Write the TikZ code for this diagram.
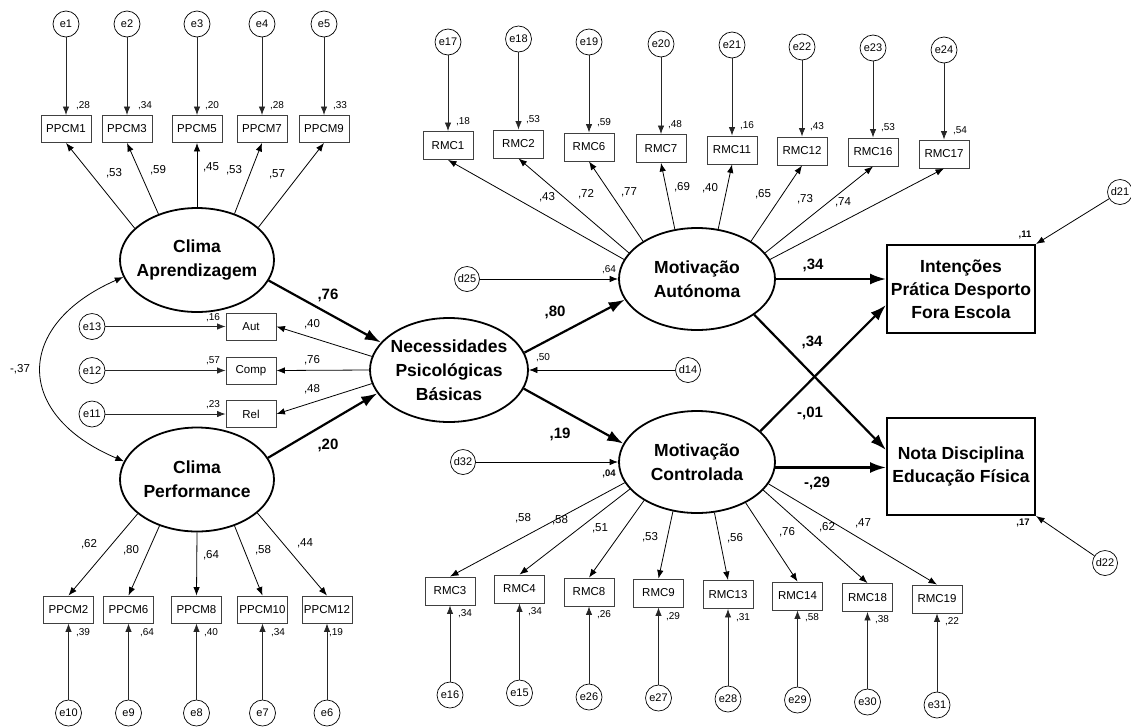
\documentclass[tikz,border=0pt]{standalone}
\usepackage{fontspec}
\setmainfont{Liberation Sans}
\usetikzlibrary{arrows.meta,shapes.geometric}
\newcommand{\latf}{\fontsize{17.5}{24}\selectfont\bfseries}
\newcommand{\bigf}{\fontsize{17.5}{23}\selectfont\bfseries}
\newcommand{\obsf}{\fontsize{11.5}{12}\selectfont}
\newcommand{\errf}{\fontsize{11}{12}\selectfont}
\newcommand{\lblf}{\fontsize{11.5}{12}\selectfont}
\newcommand{\rsqf}{\fontsize{10}{11}\selectfont}
\newcommand{\blf}{\fontsize{15}{16}\selectfont\bfseries}
\newcommand{\brsqf}{\fontsize{9.5}{10}\selectfont\bfseries}
\tikzset{
 lat/.style={ellipse, draw, line width=1.8pt, inner sep=0pt},
 lattext/.style={align=center, font=\latf, inner sep=0pt},
 obs/.style={rectangle, draw=black!75, line width=0.9pt, minimum width=50pt, minimum height=27pt, inner sep=0pt, font=\obsf},
 err/.style={circle, draw, line width=0.7pt, minimum size=26pt, inner sep=0pt, font=\errf},
 dist/.style={circle, draw, line width=0.7pt, minimum size=25pt, inner sep=0pt, font=\errf},
 big/.style={rectangle, draw, line width=2pt, minimum width=148pt, inner sep=0pt, align=center, font=\bigf},
 arr/.style={-{Latex[length=8.5pt,width=6.5pt]}, line width=0.8pt},
 earr/.style={arr, draw=black!85},
 barr/.style={-{Latex[length=16pt,width=11pt]}, line width=2.2pt},
 lbl/.style={font=\lblf, inner sep=0pt},
 rsq/.style={font=\rsqf, inner sep=0pt},
 bl/.style={font=\blf, inner sep=0pt},
 brsq/.style={font=\brsqf, inner sep=0pt},
}
\begin{document}
\begin{tikzpicture}[x=1pt,y=-1pt]
\useasboundingbox (0,0) rectangle (1131,726);
% ---------- latent variables ----------
\node[lat, minimum width=154pt, minimum height=104pt] (CA) at (197,260) {};
\node[lattext] (CAt) at (CA) {Clima\\Aprendizagem};
\node[lat, minimum width=154pt, minimum height=104pt] (CP) at (197,479.5) {};
\node[lattext] (CPt) at (CP) {Clima\\Performance};
\node[lat, minimum width=158pt, minimum height=104pt] (NB) at (449,370) {};
\node[lattext] (NBt) at (NB) {Necessidades\\Psicológicas\\Básicas};
\node[lat, minimum width=156pt, minimum height=102pt] (MA) at (697,279) {};
\node[lattext] (MAt) at (MA) {Motivação\\Autónoma};
\node[lat, minimum width=156pt, minimum height=102pt] (MC) at (697,462) {};
\node[lattext] (MCt) at (MC) {Motivação\\Controlada};
% ---------- outcome boxes ----------
\node[big, minimum height=88pt] (INT) at (961,289) {Intenções\\Prática Desporto\\Fora Escola};
\node[big, minimum height=97pt] (NOTA) at (961,466.5) {Nota Disciplina\\Educação Física};
% ---------- Clima Aprendizagem indicators ----------
\node[obs] (P1) at (66,129) {PPCM1};
\node[obs] (P3) at (127,129) {PPCM3};
\node[obs] (P5) at (197,129) {PPCM5};
\node[obs] (P7) at (262,129) {PPCM7};
\node[obs] (P9) at (324,129) {PPCM9};
\node[err] (e1) at (66,24) {e1};
\node[err] (e2) at (127,24) {e2};
\node[err] (e3) at (197,24) {e3};
\node[err] (e4) at (262,24) {e4};
\node[err] (e5) at (324,24) {e5};
\foreach \a/\b in {e1/P1,e2/P3,e3/P5,e4/P7,e5/P9} \draw[earr] (\a) -- (\b);
\draw[arr] (CA.153) -- (P1.south);
\draw[arr] (CA.130) -- (P3.south);
\draw[arr] (CA.90) -- (P5.south);
\draw[arr] (CA.51) -- (P7.south);
\draw[arr] (CA.28) -- (P9.south);
\node[rsq] (r1) at (83,106) {,28};
\node[rsq] (r3) at (145,106) {,34};
\node[rsq] (r5) at (212,106) {,20};
\node[rsq] (r7) at (277,106) {,28};
\node[rsq] (r9) at (340,106) {,33};
\node[lbl] (l1) at (114,173) {,53};
\node[lbl] (l3) at (158,170) {,59};
\node[lbl] (l5) at (211,167) {,45};
\node[lbl] (l7) at (234,170) {,53};
\node[lbl] (l9) at (277,174) {,57};
% ---------- Clima Performance indicators ----------
\node[obs] (P2) at (68.5,609.5) {PPCM2};
\node[obs] (P6) at (128.5,609.5) {PPCM6};
\node[obs] (P8) at (196.5,609.5) {PPCM8};
\node[obs] (P10) at (262.5,609.5) {PPCM10};
\node[obs] (P12) at (327,609.5) {PPCM12};
\node[err] (e10) at (68.5,713) {e10};
\node[err] (e9) at (128.5,713) {e9};
\node[err] (e8) at (196.5,713) {e8};
\node[err] (e7) at (262.5,713) {e7};
\node[err] (e6) at (327,713) {e6};
\foreach \a/\b in {e10/P2,e9/P6,e8/P8,e7/P10,e6/P12} \draw[earr] (\a) -- (\b);
\draw[arr] (CP.210) -- (P2.north);
\draw[arr] (CP.231) -- (P6.north);
\draw[arr] (CP.270) -- (P8.north);
\draw[arr] (CP.309) -- (P10.north);
\draw[arr] (CP.331) -- (P12.north);
\node[rsq] (r2) at (83,633) {,39};
\node[rsq] (r6) at (147,633) {,64};
\node[rsq] (r8) at (211,633) {,40};
\node[rsq] (r10) at (278,633) {,34};
\node[rsq] (r12) at (336,633) {,19};
\node[lbl] (l2) at (89,544) {,62};
\node[lbl] (l6) at (131,550) {,80};
\node[lbl] (l8) at (211,555) {,64};
\node[lbl] (l10) at (263,550) {,58};
\node[lbl] (l12) at (305,543) {,44};
% ---------- covariance ----------
\draw[{Latex[length=8.5pt,width=6.5pt]}-{Latex[length=8.5pt,width=6.5pt]}, line width=0.8pt] (CA.193) .. controls (14,325) and (14,415) .. (CP.166);
\node[lbl] (cov) at (20,369) {-,37};
% ---------- Necessidades indicators ----------
\node[obs] (AUT) at (251,326.5) {Aut};
\node[obs] (COMP) at (251,370.5) {Comp};
\node[obs] (REL) at (251,414) {Rel};
\node[err] (e13) at (92,326.5) {e13};
\node[err] (e12) at (92,370.5) {e12};
\node[err] (e11) at (92,414) {e11};
\draw[earr] (e13) -- (AUT);
\draw[earr] (e12) -- (COMP);
\draw[earr] (e11) -- (REL);
\draw[arr] (NB.170) -- (AUT.east);
\draw[arr] (NB.180) -- (COMP.east);
\draw[arr] (NB.190) -- (REL.east);
\node[rsq] (rA) at (213,318) {,16};
\node[rsq] (rC) at (213,361) {,57};
\node[rsq] (rR) at (213,405) {,23};
\node[lbl] (lA) at (312,324) {,40};
\node[lbl] (lC) at (312,360) {,76};
\node[lbl] (lR) at (312,389) {,48};
% ---------- structural paths ----------
\draw[barr] (CA.-16) -- (NB.158.6);
\draw[barr] (CP.17) -- (NB.198);
\draw[barr] (NB.13) -- (MA.196);
\draw[barr] (NB.-14) -- (MC.166);
\draw[barr] (MA.east) -- (MA.east -| INT.west);
\draw[barr] (MA.-32) -- ([yshift=16.5pt]NOTA.west);
\draw[barr] (MC.26) -- ([yshift=-16pt]INT.west);
\draw[barr] (MC.-4) -- (MC.-4 -| NOTA.west);
\node[bl] (b1) at (328,295) {,76};
\node[bl] (b2) at (328,445) {,20};
\node[bl] (b3) at (555,312) {,80};
\node[bl] (b4) at (560,434) {,19};
\node[bl] (b5) at (813,265) {,34};
\node[bl] (b6) at (812,342) {,34};
\node[bl] (b7) at (810,413) {-,01};
\node[bl] (b8) at (817,483) {-,29};
% ---------- disturbances ----------
\node[dist] (d14) at (688,370) {d14};
\node[dist] (d25) at (467,279) {d25};
\node[dist] (d32) at (463,462) {d32};
\node[dist] (d21) at (1120,192) {d21};
\node[dist] (d22) at (1105,563) {d22};
\draw[arr] (d14) -- (NB.east);
\draw[arr] (d25) -- (MA.west);
\draw[arr] (d32) -- (MC.west);
\draw[arr] (d21) -- (INT.north east);
\draw[arr] (d22) -- (NOTA.south east);
\node[rsq] (rNB) at (543,358) {,50};
\node[rsq] (rMA) at (609,270) {,64};
\node[brsq] (rMC) at (609,474) {,04};
\node[brsq] (rINT) at (1025,235) {,11};
\node[brsq] (rNOTA) at (1023,523) {,17};
% ---------- Motivacao Autonoma indicators ----------
\node[obs, minimum height=28pt] (R1) at (448,145.5) {RMC1};
\node[obs, minimum height=28pt] (R2) at (518.5,144) {RMC2};
\node[obs, minimum height=28pt] (R6) at (589,147) {RMC6};
\node[obs, minimum height=28pt] (R7) at (661,148.5) {RMC7};
\node[obs, minimum height=28pt] (R11) at (732,150) {RMC11};
\node[obs, minimum height=28pt] (R12) at (802,151) {RMC12};
\node[obs, minimum height=28pt] (R16) at (873,152) {RMC16};
\node[obs, minimum height=28pt] (R17) at (944,154) {RMC17};
\node[err] (e17) at (448,42) {e17};
\node[err] (e18) at (518.5,39) {e18};
\node[err] (e19) at (589,42) {e19};
\node[err] (e20) at (661,44) {e20};
\node[err] (e21) at (732,45) {e21};
\node[err] (e22) at (802,47) {e22};
\node[err] (e23) at (873,48) {e23};
\node[err] (e24) at (944,50) {e24};
\foreach \a/\b in {e17/R1,e18/R2,e19/R6,e20/R7,e21/R11,e22/R12,e23/R16,e24/R17} \draw[earr] (\a) -- (\b);
\draw[arr] (MA.165.6) -- (R1.south);
\draw[arr] (MA.159) -- (R2.south);
\draw[arr] (MA.145.6) -- (R6.south);
\draw[arr] (MA.114) -- (R7.south);
\draw[arr] (MA.67) -- (R11.south);
\draw[arr] (MA.35) -- (R12.south);
\draw[arr] (MA.21.5) -- (R16.south);
\draw[arr] (MA.15) -- (R17.south);
\node[rsq] (q1) at (463,122) {,18};
\node[rsq] (q2) at (533,120) {,53};
\node[rsq] (q6) at (604,123) {,59};
\node[rsq] (q7) at (675,125) {,48};
\node[rsq] (q11) at (747,126) {,16};
\node[rsq] (q12) at (817,127) {,43};
\node[rsq] (q16) at (888,128) {,53};
\node[rsq] (q17) at (960,131) {,54};
\node[lbl] (m1) at (547,197) {,43};
\node[lbl] (m2) at (586,194) {,72};
\node[lbl] (m6) at (629,192) {,77};
\node[lbl] (m7) at (682,187) {,69};
\node[lbl] (m11) at (710,188) {,40};
\node[lbl] (m12) at (763,194) {,65};
\node[lbl] (m16) at (805,199) {,73};
\node[lbl] (m17) at (843,202) {,74};
% ---------- Motivacao Controlada indicators ----------
\node[obs, minimum height=28pt] (R3) at (450,591) {RMC3};
\node[obs, minimum height=28pt] (R4) at (519.5,589) {RMC4};
\node[obs, minimum height=28pt] (R8) at (589,592) {RMC8};
\node[obs, minimum height=28pt] (R9) at (658.5,593) {RMC9};
\node[obs, minimum height=28pt] (R13) at (728,594.5) {RMC13};
\node[obs, minimum height=28pt] (R14) at (797.5,596) {RMC14};
\node[obs, minimum height=28pt] (R18) at (867.5,597.5) {RMC18};
\node[obs, minimum height=28pt] (R19) at (937,599) {RMC19};
\node[err] (e16) at (450,695) {e16};
\node[err] (e15) at (519.5,693) {e15};
\node[err] (e26) at (589,697) {e26};
\node[err] (e27) at (658.5,698) {e27};
\node[err] (e28) at (728,699) {e28};
\node[err] (e29) at (797.5,700) {e29};
\node[err] (e30) at (867.5,702) {e30};
\node[err] (e31) at (937,705) {e31};
\foreach \a/\b in {e16/R3,e15/R4,e26/R8,e27/R9,e28/R13,e29/R14,e30/R18,e31/R19} \draw[earr] (\a) -- (\b);
\draw[arr] (MC.196) -- (R3.north);
\draw[arr] (MC.202.5) -- (R4.north);
\draw[arr] (MC.216) -- (R8.north);
\draw[arr] (MC.244) -- (R9.north);
\draw[arr] (MC.289) -- (R13.north);
\draw[arr] (MC.320.5) -- (R14.north);
\draw[arr] (MC.337) -- (R18.north);
\draw[arr] (MC.343) -- (R19.north);
\node[rsq] (s3) at (465,614) {,34};
\node[rsq] (s4) at (535,612) {,34};
\node[rsq] (s8) at (604,615) {,26};
\node[rsq] (s9) at (673,617) {,29};
\node[rsq] (s13) at (743,618) {,31};
\node[rsq] (s14) at (812,618) {,58};
\node[rsq] (s18) at (882,620) {,38};
\node[rsq] (s19) at (952,622) {,22};
\node[lbl] (n3) at (523,518) {,58};
\node[lbl] (n4) at (560,520) {,58};
\node[lbl] (n8) at (600,528) {,51};
\node[lbl] (n9) at (650,537) {,53};
\node[lbl] (n13) at (735,538) {,56};
\node[lbl] (n14) at (787,532) {,76};
\node[lbl] (n18) at (827,527) {,62};
\node[lbl] (n19) at (863,523) {,47};
\end{tikzpicture}
\end{document}
